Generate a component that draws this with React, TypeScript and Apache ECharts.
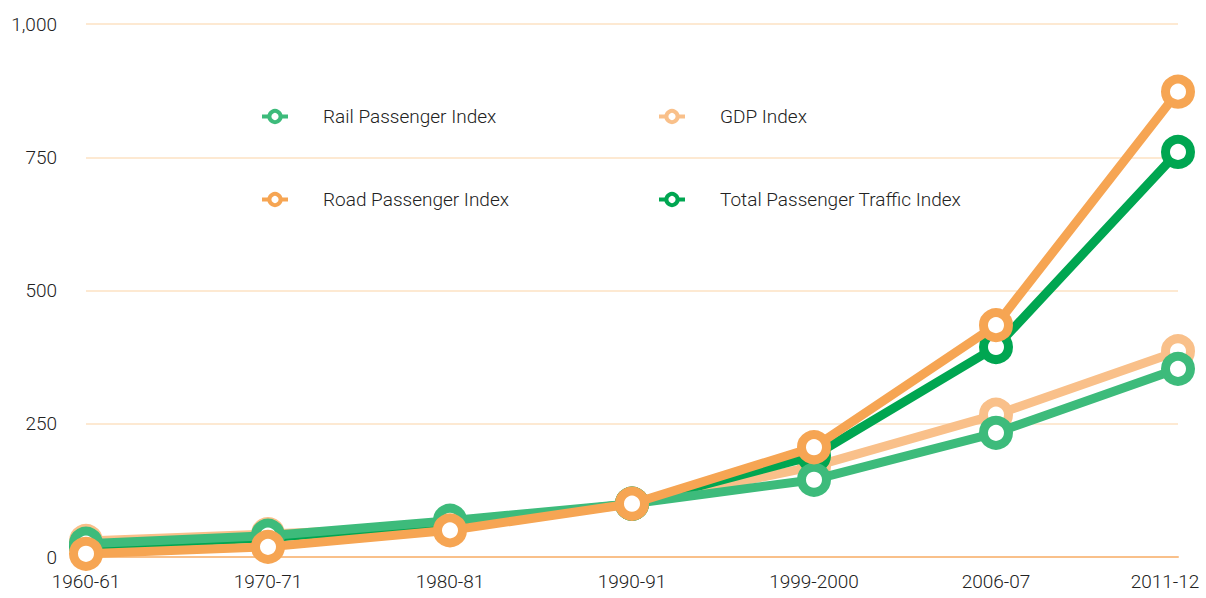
import React, { useEffect, useRef } from "react";
import * as echarts from "echarts";

const categories = ["1960-61", "1970-71", "1980-81", "1990-91", "1999-2000", "2006-07", "2011-12"];
const railIndex = [25, 40, 68, 100, 145, 233, 353];
const gdpIndex = [30, 43, 57, 100, 170, 267, 386];
const roadIndex = [6, 19, 50, 100, 206, 435, 873];
const totalIndex = [20, 36, 62, 100, 190, 394, 760];
const yTicks = [0, 250, 500, 750, 1000];

const FONT = "Roboto";

export default function App() {
  const ref = useRef<HTMLDivElement>(null);
  useEffect(() => {
    if (!ref.current) return;
    const chart = echarts.init(ref.current, undefined, { renderer: "svg" });
    const mk = (name: string, data: number[], color: string, z: number) => ({
      name,
      type: "line",
      data,
      z,
      symbol: "circle",
      symbolSize: 25,
      lineStyle: { width: 9, color },
      itemStyle: { color: "#ffffff", borderColor: color, borderWidth: 9 },
      emphasis: { disabled: true },
    });
    const legendCommon = {
      orient: "vertical",
      top: 102,
      itemGap: 64,
      itemWidth: 26,
      itemHeight: 14,
      textStyle: { fontFamily: FONT, fontWeight: 300, fontSize: 19, color: "#222", padding: [0, 0, 0, 30] },
      itemStyle: { borderWidth: 4 },
      lineStyle: { width: 4 },
      selectedMode: false,
    };
    const lastCat = categories[categories.length - 1];
    chart.setOption({
      animation: false,
      backgroundColor: "#ffffff",
      grid: { left: 86, right: 28, top: 24, bottom: 41, outerBoundsMode: "none", containLabel: false },
      legend: [
        { ...legendCommon, left: 255, data: ["Rail Passenger Index", "Road Passenger Index"] },
        { ...legendCommon, left: 652, data: ["GDP Index", "Total Passenger Traffic Index"] },
      ],
      xAxis: {
        type: "category",
        data: categories,
        boundaryGap: false,
        axisLine: { lineStyle: { color: "#f9c08a", width: 2 } },
        axisTick: { show: false },
        axisLabel: {
          fontFamily: FONT,
          fontWeight: 300,
          fontSize: 19,
          color: "#222",
          margin: 15,
          formatter: (v: string) => (v === lastCat ? `{last|${v}}` : v),
          rich: {
            last: { fontFamily: FONT, fontWeight: 300, fontSize: 19, color: "#222", padding: [0, 26, 0, 0] },
          },
        },
      },
      yAxis: {
        type: "value",
        min: yTicks[0],
        max: yTicks[yTicks.length - 1],
        interval: 250,
        axisLine: { show: false },
        axisTick: { show: false },
        splitLine: { lineStyle: { color: "#fde9d2", width: 2 } },
        axisLabel: {
          fontFamily: FONT,
          fontWeight: 300,
          fontSize: 19,
          color: "#222",
          margin: 29,
          formatter: (v: number) => v.toLocaleString("en-US"),
        },
      },
      series: [
        mk("GDP Index", gdpIndex, "#f9c08a", 2),
        mk("Total Passenger Traffic Index", totalIndex, "#00a651", 3),
        mk("Rail Passenger Index", railIndex, "#3dbb7b", 4),
        mk("Road Passenger Index", roadIndex, "#f6a553", 5),
      ],
    });
    return () => chart.dispose();
  }, []);
  return (
    <div
      ref={ref}
      style={{ position: "fixed", left: 0, top: 0, width: 1206, height: 598 }}
    />
  );
}
